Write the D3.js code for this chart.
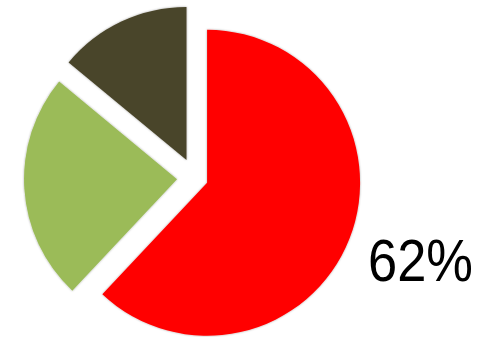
<!DOCTYPE html>
<html>
<head>
<meta charset="utf-8">
<script src="https://cdn.jsdelivr.net/npm/d3@7"></script>
<style>
  html, body { margin: 0; padding: 0; background: #fff; }
</style>
</head>
<body>
<div id="chart"></div>
<script>
// slice data, clockwise from 12 o'clock
const categories = ["A", "B", "C"];
const values = [62, 24, 14];
const colors = ["#FF0000", "#9BBB59", "#4A452A"];
const labelText = "62%";

drawPie();

function drawPie() {
	const width = 496, height = 337;
	const cx = 195, cy = 178, radius = 153;
	// how far each slice is pulled out along its middle angle
	const explode = [13, 18, 20];

	const svg = d3.select("#chart")
				  .append("svg")
				  .attr("width", width)
				  .attr("height", height);

	const defs = svg.append("defs");
	const shadow = defs.append("filter")
					   .attr("id", "soft")
					   .attr("x", "-10%").attr("y", "-10%")
					   .attr("width", "120%").attr("height", "120%");
	shadow.append("feDropShadow")
		  .attr("dx", 0).attr("dy", 0)
		  .attr("stdDeviation", 0.8)
		  .attr("flood-color", "#000")
		  .attr("flood-opacity", 0.35);

	const pie = d3.pie().sort(null).value(d => d);
	const arc = d3.arc().innerRadius(0).outerRadius(radius);

	const g = svg.append("g")
				 .attr("transform", `translate(${cx},${cy})`);

	g.selectAll("path")
	 .data(pie(values))
	 .enter()
	 .append("path")
	 .attr("d", arc)
	 .attr("fill", (d, i) => colors[i])
	 .attr("filter", "url(#soft)")
	 .attr("transform", (d, i) => {
		 const mid = (d.startAngle + d.endAngle) / 2;
		 const dx = Math.sin(mid) * explode[i];
		 const dy = -Math.cos(mid) * explode[i];
		 return `translate(${dx},${dy})`;
	 });

	// value label
	svg.append("text")
	   .attr("x", 368)
	   .attr("y", 281)
	   .attr("textLength", 105)
	   .attr("lengthAdjust", "spacingAndGlyphs")
	   .style("font-family", "'Liberation Sans', Arial, sans-serif")
	   .style("font-size", "60px")
	   .style("fill", "#000")
	   .text(labelText);
}
</script>
</body>
</html>
